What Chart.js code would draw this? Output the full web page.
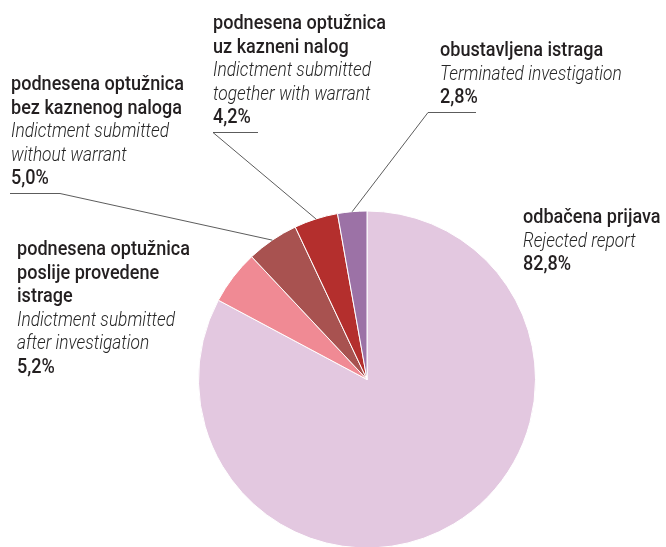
<!DOCTYPE html>
<html>
<head>
<meta charset="utf-8">
<script src="https://cdn.jsdelivr.net/npm/chart.js@4"></script>
<style>
html,body{margin:0;padding:0;background:#fff;overflow:hidden;width:666px;height:547px;}
#wrap{position:absolute;left:0;top:0;width:666px;height:560px;}
</style>
</head>
<body>
<div id="wrap"><canvas id="c"></canvas></div>
<script>
// Data
const categoriesHr = [
  ['odbačena prijava'],
  ['podnesena optužnica', 'poslije provedene', 'istrage'],
  ['podnesena optužnica', 'bez kaznenog naloga'],
  ['podnesena optužnica', 'uz kazneni nalog'],
  ['obustavljena istraga']
];
const categoriesEn = [
  ['Rejected report'],
  ['Indictment submitted', 'after investigation'],
  ['Indictment submitted', 'without warrant'],
  ['Indictment submitted', 'together with warrant'],
  ['Terminated investigation']
];
const values = [82.8, 5.2, 5.0, 4.2, 2.8];
const valueLabels = ['82,8%', '5,2%', '5,0%', '4,2%', '2,8%'];
const colors = ['#e3c8e0', '#f08a94', '#a85250', '#b42f2d', '#9c72a6'];

// Label layout: x, first baseline, underline extent, leader start
const labelLayout = [
  {x: 523, y: 223, leader: false},
  {x: 17,  y: 255, leader: false},
  {x: 11,  y: 90,  leader: true, ul: [10, 60],   start: 60},
  {x: 213, y: 29,  leader: true, ul: [213, 258], start: 213},
  {x: 440, y: 56,  leader: true, ul: [428, 476], start: 428}
];
const LINE_H = 23.6;
const BOLD_FONT = '500 20px Roboto';
const ITAL_FONT = 'italic 300 20px Roboto';

const labelPlugin = {
  id: 'labels',
  afterDraw(chart) {
    const ctx = chart.ctx;
    ctx.save();
    ctx.font = BOLD_FONT;
    const sxB = 173 / ctx.measureText('podnesena optužnica').width;
    ctx.font = ITAL_FONT;
    const sxI = 158 / ctx.measureText('Indictment submitted').width;
    const meta = chart.getDatasetMeta(0);
    const drawText = (t, x, y, font, sx, color) => {
      ctx.save();
      ctx.font = font;
      ctx.fillStyle = color;
      ctx.textBaseline = 'alphabetic';
      ctx.translate(x, y);
      ctx.scale(sx, 1);
      ctx.fillText(t, 0, 0);
      ctx.restore();
    };
    labelLayout.forEach((L, i) => {
      let y = L.y;
      categoriesHr[i].forEach(t => { drawText(t, L.x, y, BOLD_FONT, sxB, '#231f20'); y += LINE_H; });
      categoriesEn[i].forEach(t => { drawText(t, L.x, y, ITAL_FONT, sxI, '#262626'); y += LINE_H; });
      drawText(valueLabels[i], L.x, y, BOLD_FONT, sxB, '#231f20');
      if (L.leader) {
        const arc = meta.data[i];
        const p = arc.getProps(['x', 'y', 'startAngle', 'endAngle', 'outerRadius'], true);
        const mid = (p.startAngle + p.endAngle) / 2;
        const ex = p.x + Math.cos(mid) * p.outerRadius;
        const ey = p.y + Math.sin(mid) * p.outerRadius;
        const uy = Math.round(y + 9) + 0.5;
        ctx.strokeStyle = '#4a4a4a';
        ctx.lineWidth = 0.9;
        ctx.beginPath();
        ctx.moveTo(L.ul[0], uy);
        ctx.lineTo(L.ul[1], uy);
        ctx.moveTo(L.start, uy);
        ctx.lineTo(ex, ey);
        ctx.stroke();
      }
    });
    ctx.restore();
  }
};

new Chart(document.getElementById('c'), {
  type: 'pie',
  data: {
    labels: categoriesEn.map(a => a.join(' ')),
    datasets: [{
      data: values,
      backgroundColor: colors,
      borderColor: '#ffffff',
      borderWidth: 1,
      hoverOffset: 0
    }]
  },
  options: {
    responsive: true,
    maintainAspectRatio: false,
    animation: false,
    events: [],
    layout: { padding: { left: 198, right: 130, top: 210, bottom: 11 } },
    plugins: { legend: { display: false }, tooltip: { enabled: false } }
  },
  plugins: [labelPlugin]
});
</script>
</body>
</html>
